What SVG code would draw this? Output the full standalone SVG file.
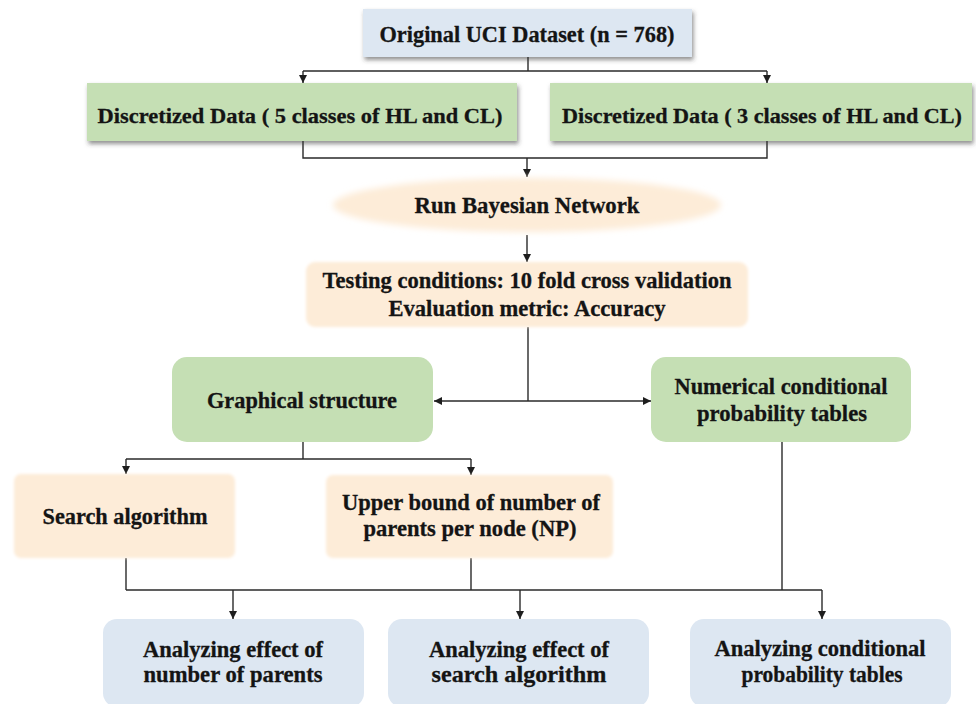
<svg xmlns="http://www.w3.org/2000/svg" width="976" height="704" viewBox="0 0 976 704">
  <defs>
    <filter id="shadow" x="-10%" y="-30%" width="120%" height="170%">
      <feDropShadow dx="1.5" dy="3" stdDeviation="2.2" flood-color="#3a3a3a" flood-opacity="0.55"/>
    </filter>
    <filter id="soft" x="-10%" y="-20%" width="120%" height="140%">
      <feGaussianBlur stdDeviation="1.8"/>
    </filter>
    <filter id="softer" x="-10%" y="-30%" width="120%" height="160%">
      <feGaussianBlur stdDeviation="3"/>
    </filter>
    <marker id="arrow" viewBox="0 0 10 10" refX="10" refY="5" markerWidth="9" markerHeight="8" markerUnits="userSpaceOnUse" orient="auto">
      <path d="M0,0 L10,5 L0,10 Z" fill="#1e1e1e"/>
    </marker>
  </defs>
  <style>
    text { font-family: "Liberation Serif", "Times New Roman", serif; font-weight: bold; font-size: 23.5px; fill: #141414; stroke: #141414; stroke-width: 0.3; text-anchor: middle; }
    text.wide { font-size: 22px; }
    .blue { fill: #dde7f2; }
    .green { fill: #c5dfb4; }
    .peach { fill: #fdecd8; }
    .wire { fill: none; stroke: #2a2a2a; stroke-width: 1.4; }
  </style>

  <rect width="976" height="704" fill="#ffffff"/>

  <!-- connectors -->
  <g id="connectors" class="wire">
    <path d="M528,57 V71"/>
    <path d="M303,71 H767"/>
    <path d="M303,71 V83" marker-end="url(#arrow)"/>
    <path d="M767,71 V83" marker-end="url(#arrow)"/>
    <path d="M303,141 V158 H767 V141"/>
    <path d="M527,158 V177" marker-end="url(#arrow)"/>
    <path d="M527,235 V262" marker-end="url(#arrow)"/>
    <path d="M528,327 V401"/>
    <path d="M528,401 H434" marker-end="url(#arrow)"/>
    <path d="M528,401 H651" marker-end="url(#arrow)"/>
    <path d="M303,442 V459"/>
    <path d="M126,459 H471"/>
    <path d="M126,459 V474" marker-end="url(#arrow)"/>
    <path d="M471,459 V475" marker-end="url(#arrow)"/>
    <path d="M126,558 V590"/>
    <path d="M471,558 V590"/>
    <path d="M782,442 V590"/>
    <path d="M126,590 H822"/>
    <path d="M233,590 V619" marker-end="url(#arrow)"/>
    <path d="M520,590 V619" marker-end="url(#arrow)"/>
    <path d="M822,590 V619" marker-end="url(#arrow)"/>
  </g>

  <!-- source dataset -->
  <g id="dataset">
    <rect class="blue" x="363" y="9" width="329" height="48" filter="url(#shadow)"/>
    <text x="527" y="42" textLength="295" lengthAdjust="spacingAndGlyphs">Original UCI Dataset (n = 768)</text>
  </g>

  <!-- discretized variants -->
  <g id="discretized5">
    <rect class="green" x="87" y="83" width="430" height="58" filter="url(#shadow)"/>
    <text class="wide" x="300" y="123" textLength="405" lengthAdjust="spacingAndGlyphs">Discretized Data ( 5 classes of HL and CL)</text>
  </g>
  <g id="discretized3">
    <rect class="green" x="550" y="83" width="422" height="58" filter="url(#shadow)"/>
    <text class="wide" x="762" y="123" textLength="400" lengthAdjust="spacingAndGlyphs">Discretized Data ( 3 classes of HL and CL)</text>
  </g>

  <!-- model run -->
  <g id="run-bn">
    <ellipse class="peach" cx="527" cy="205" rx="194" ry="27" filter="url(#softer)"/>
    <text x="527" y="213" textLength="225" lengthAdjust="spacingAndGlyphs">Run Bayesian Network</text>
  </g>

  <!-- testing setup -->
  <g id="testing">
    <rect class="peach" x="306" y="262" width="442" height="65" rx="9" filter="url(#soft)"/>
    <text x="527" y="288" textLength="409" lengthAdjust="spacingAndGlyphs">Testing conditions: 10 fold  cross validation</text>
    <text x="527" y="316" textLength="277" lengthAdjust="spacingAndGlyphs">Evaluation metric: Accuracy</text>
  </g>

  <!-- network components -->
  <g id="graphical">
    <rect class="green" x="172" y="357" width="261" height="85" rx="15"/>
    <text x="302" y="408" textLength="190" lengthAdjust="spacingAndGlyphs">Graphical structure</text>
  </g>
  <g id="numerical">
    <rect class="green" x="651" y="357" width="260" height="85" rx="15"/>
    <text x="781" y="394" textLength="213" lengthAdjust="spacingAndGlyphs">Numerical conditional</text>
    <text x="782" y="421" textLength="170" lengthAdjust="spacingAndGlyphs">probability tables</text>
  </g>

  <!-- structure parameters -->
  <g id="search">
    <rect class="peach" x="14" y="474" width="221" height="84" rx="7" filter="url(#soft)"/>
    <text x="125" y="524" textLength="165" lengthAdjust="spacingAndGlyphs">Search algorithm</text>
  </g>
  <g id="upper-bound">
    <rect class="peach" x="326" y="475" width="287" height="83" rx="7" filter="url(#soft)"/>
    <text x="471" y="510" textLength="258" lengthAdjust="spacingAndGlyphs">Upper bound of number of</text>
    <text x="470" y="536" textLength="213" lengthAdjust="spacingAndGlyphs">parents per node (NP)</text>
  </g>

  <!-- analyses -->
  <g id="analysis-parents">
    <rect class="blue" x="103" y="619" width="261" height="88" rx="14"/>
    <text x="233" y="657" textLength="180" lengthAdjust="spacingAndGlyphs">Analyzing effect of</text>
    <text x="233" y="682" textLength="179" lengthAdjust="spacingAndGlyphs">number of parents</text>
  </g>
  <g id="analysis-search">
    <rect class="blue" x="388" y="619" width="261" height="88" rx="14"/>
    <text x="519" y="657" textLength="180" lengthAdjust="spacingAndGlyphs">Analyzing effect of</text>
    <text x="519" y="682" textLength="175" lengthAdjust="spacingAndGlyphs">search algorithm</text>
  </g>
  <g id="analysis-cpt">
    <rect class="blue" x="690" y="619" width="261" height="88" rx="14"/>
    <text x="820" y="656" textLength="211" lengthAdjust="spacingAndGlyphs">Analyzing conditional</text>
    <text x="822" y="682" textLength="161" lengthAdjust="spacingAndGlyphs">probability tables</text>
  </g>
</svg>
